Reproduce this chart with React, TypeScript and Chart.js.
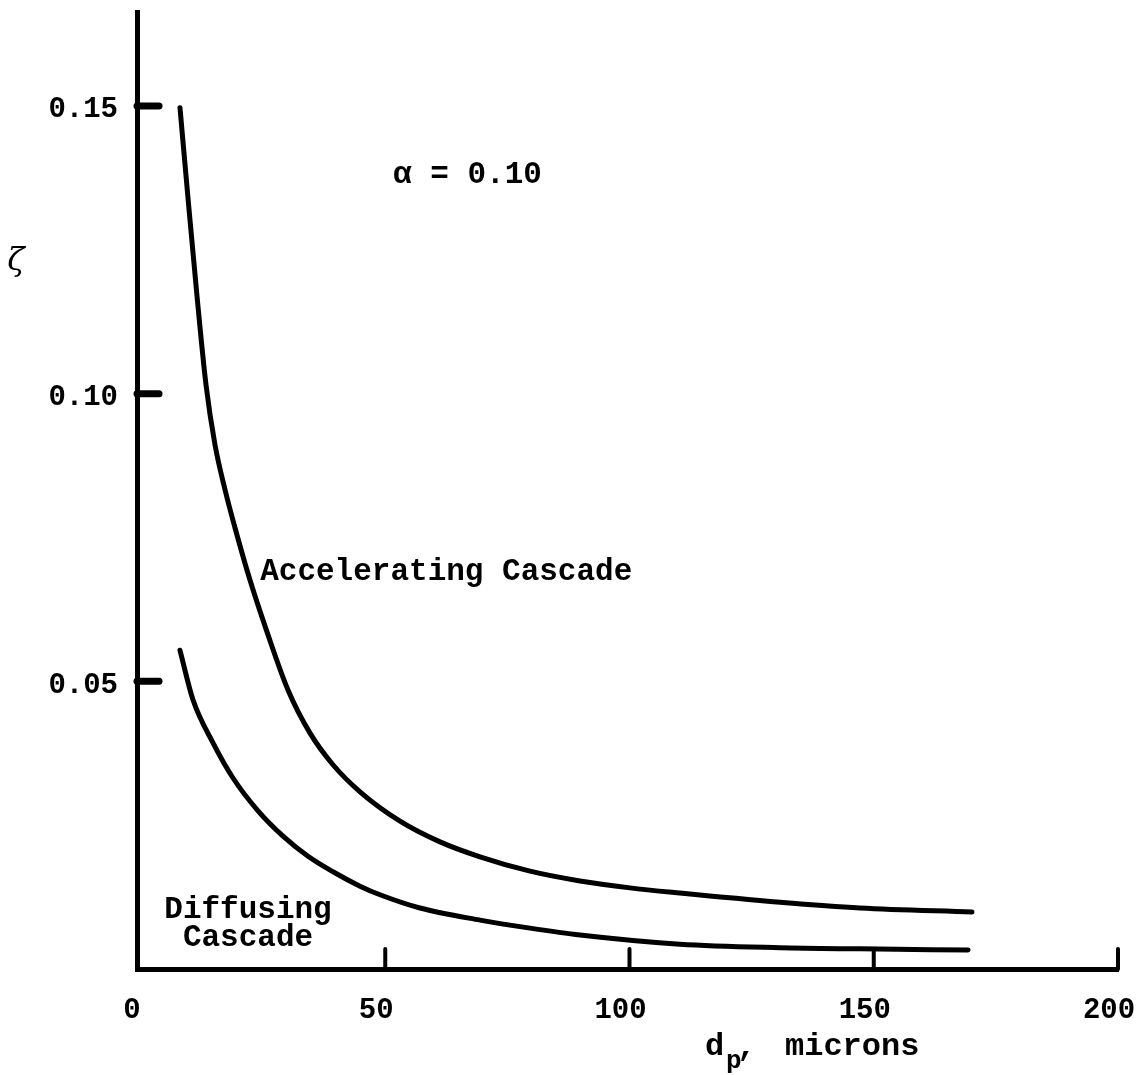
import React, { useEffect, useRef } from "react";
import { Chart, registerables } from "chart.js";

Chart.register(...registerables);

// Axis ticks
const X_TICKS = [0, 50, 100, 150, 200];
const Y_TICKS = [0.05, 0.1, 0.15];

// Accelerating cascade (upper curve): d_p (microns) vs zeta
const accelX = [7.98, 9.62, 11.46, 13.31, 15.15, 17.2, 19.24, 22.31, 25.79, 30.09, 34.6, 39.3, 44.83, 53.02, 61.21, 69.4, 79.63, 89.87, 100.1, 110.3, 130.8, 147.2, 170.1];
const accelY = [0.1497, 0.134, 0.117, 0.1015, 0.0911, 0.0833, 0.0767, 0.0676, 0.0586, 0.0485, 0.041, 0.0355, 0.0308, 0.0257, 0.0221, 0.0195, 0.017, 0.0153, 0.0141, 0.0132, 0.0116, 0.0106, 0.0099];

// Diffusing cascade (lower curve)
const diffX = [7.98, 10.64, 14.74, 18.83, 23.95, 29.07, 34.19, 39.3, 44.83, 48.93, 57.11, 69.4, 79.63, 89.87, 110.3, 130.8, 147.2, 169.3];
const diffY = [0.0554, 0.0468, 0.0393, 0.0332, 0.0275, 0.0231, 0.0196, 0.0169, 0.0144, 0.0129, 0.0106, 0.0085, 0.0071, 0.0059, 0.0043, 0.0037, 0.0035, 0.0033];

// Text annotations placed in data coordinates
const NOTES = [
  { text: "α = 0.10", x: 51.6, y: 0.138, align: "left" as CanvasTextAlign },
  { text: "Accelerating Cascade", x: 24.4, y: 0.069, align: "left" as CanvasTextAlign },
  { text: "Diffusing", x: 21.9, y: 0.0103, align: "center" as CanvasTextAlign },
  { text: "Cascade", x: 21.9, y: 0.0054, align: "center" as CanvasTextAlign },
];

const MONO = "'Liberation Mono', 'DejaVu Sans Mono', monospace";

const decorPlugin = {
  id: "decor",
  afterDraw(chart: any) {
    const { ctx, chartArea, scales } = chart;
    const xs = scales.x;
    const ys = scales.y;
    ctx.save();
    ctx.strokeStyle = "#000";
    ctx.fillStyle = "#000";
    ctx.lineCap = "round";

    // y tick stubs (pointing inward)
    ctx.lineWidth = 7;
    for (const v of Y_TICKS) {
      const py = ys.getPixelForValue(v);
      ctx.beginPath();
      ctx.moveTo(chartArea.left, py);
      ctx.lineTo(chartArea.left + 22, py);
      ctx.stroke();
    }
    // x tick marks (pointing upward)
    ctx.lineWidth = 4;
    for (const v of X_TICKS.slice(1)) {
      const px = xs.getPixelForValue(v);
      ctx.beginPath();
      ctx.moveTo(px, chartArea.bottom);
      ctx.lineTo(px, chartArea.bottom - 20);
      ctx.stroke();
    }

    // annotations
    ctx.font = `bold 31px ${MONO}`;
    ctx.textBaseline = "middle";
    for (const n of NOTES) {
      ctx.textAlign = n.align;
      ctx.fillText(n.text, xs.getPixelForValue(n.x), ys.getPixelForValue(n.y));
    }

    // y title (zeta)
    ctx.font = "italic 32px 'DejaVu Serif', serif";
    ctx.textAlign = "center";
    ctx.fillText("ζ", 16, 262);

    // x title: d_p, microns
    ctx.textBaseline = "alphabetic";
    ctx.textAlign = "left";
    ctx.font = `bold 32px ${MONO}`;
    ctx.fillText("d", 705, 1055);
    ctx.font = `bold 26px ${MONO}`;
    ctx.fillText("p", 726, 1068);
    ctx.font = `bold 32px ${MONO}`;
    ctx.fillText(",", 737, 1055);
    ctx.fillText("microns", 785, 1055);
    ctx.restore();
  },
};

export default function App() {
  const ref = useRef<HTMLCanvasElement>(null);

  useEffect(() => {
    document.body.style.margin = "0";
    const canvas = ref.current!;
    const chart = new Chart(canvas, {
      type: "line",
      data: {
        datasets: [
          {
            label: "Accelerating Cascade",
            data: accelX.map((x, i) => ({ x, y: accelY[i] })),
            borderColor: "#000",
            borderWidth: 5,
            pointRadius: 0,
            fill: false,
            cubicInterpolationMode: "monotone",
            borderCapStyle: "round",
            borderJoinStyle: "round",
          },
          {
            label: "Diffusing Cascade",
            data: diffX.map((x, i) => ({ x, y: diffY[i] })),
            borderColor: "#000",
            borderWidth: 5,
            pointRadius: 0,
            fill: false,
            cubicInterpolationMode: "monotone",
            borderCapStyle: "round",
            borderJoinStyle: "round",
          },
        ],
      },
      options: {
        responsive: false,
        animation: false,
        devicePixelRatio: 1,
        layout: { padding: { top: 12, right: 18, bottom: 0, left: 0 } },
        plugins: {
          legend: { display: false },
          tooltip: { enabled: false },
        },
        scales: {
          x: {
            type: "linear",
            min: -0.82,
            max: 200,
            grid: { display: false, drawTicks: false },
            border: { display: true, color: "#000", width: 5 },
            afterBuildTicks: (s: any) => {
              s.ticks = X_TICKS.map((v) => ({ value: v }));
            },
            afterFit: (s: any) => {
              s.height = 106;
              s.paddingLeft = 0;
              s.paddingRight = 0;
            },
            ticks: {
              autoSkip: false,
              maxRotation: 0,
              padding: 24,
              labelOffset: -9,
              color: "#000",
              font: { family: MONO, size: 29, weight: "bold" },
              callback: (v: any) => String(v),
            },
          },
          y: {
            type: "linear",
            min: 0,
            max: 0.16634,
            grid: { display: false, drawTicks: false },
            border: { display: true, color: "#000", width: 5 },
            afterBuildTicks: (s: any) => {
              s.ticks = Y_TICKS.map((v) => ({ value: v }));
            },
            afterFit: (s: any) => {
              s.width = 137;
              s.paddingTop = 0;
              s.paddingBottom = 0;
            },
            ticks: {
              autoSkip: false,
              padding: 19,
              labelOffset: 4,
              color: "#000",
              font: { family: MONO, size: 29, weight: "bold" },
              callback: (v: any) => Number(v).toFixed(2),
            },
          },
        },
      },
      plugins: [decorPlugin],
    });
    return () => chart.destroy();
  }, []);

  return (
    <div style={{ width: 1136, height: 1075, background: "#fff" }}>
      <canvas ref={ref} width={1136} height={1075} style={{ display: "block", width: 1136, height: 1075 }} />
    </div>
  );
}
